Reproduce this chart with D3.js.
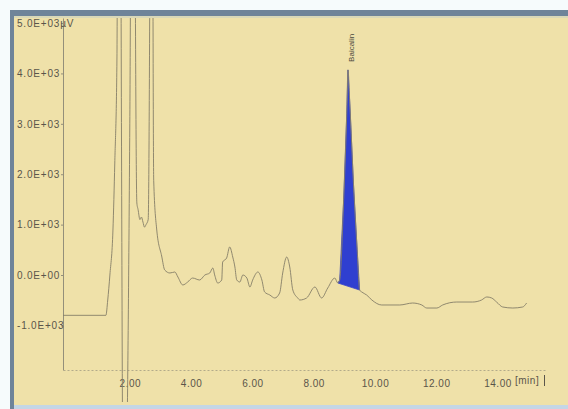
<!DOCTYPE html>
<html>
<head>
<meta charset="utf-8">
<script src="https://cdn.jsdelivr.net/npm/d3@7"></script>
<style>
    body { margin: 0; background: #f6fbfc; }
    svg { display: block; }
</style>
</head>
<body>
<svg id="chart" width="568" height="409"></svg>
<script>
// retention time (min) and signal (µV)
let times = [-0.19, 1.22, 1.28, 1.35, 1.45, 1.51, 1.58, 1.64, 1.80, 2.00, 2.10, 2.23, 2.27, 2.33, 2.38, 2.43, 2.48, 2.53, 2.60, 2.72,
    2.78, 2.88, 3.04, 3.14, 3.31, 3.47, 3.57, 3.73, 3.89, 4.05, 4.28, 4.45, 4.61, 4.71, 4.77, 4.87, 5.00, 5.03, 5.16, 5.26,
    5.36, 5.43, 5.49, 5.59, 5.69, 5.82, 5.92, 6.01, 6.18, 6.31, 6.40, 6.57, 6.73, 6.89, 6.99, 7.12, 7.22, 7.32, 7.48, 7.55,
    7.77, 8.04, 8.26, 8.46, 8.69, 8.79, 8.85, 8.98, 9.08, 9.12, 9.18, 9.30, 9.42, 9.50, 9.57, 9.73, 9.90, 10.22, 10.81, 11.23,
    11.53, 11.69, 12.02, 12.21, 12.67, 13.19, 13.48, 13.65, 13.81, 13.97, 14.17, 14.50, 14.82, 14.95];
let signal = [-800, -800, -496, 0, 893, 2222, 4266, 15000, -6000, 3000, 14000, 1430, 1300, 1100, 1150, 1050, 950, 1000, 1100, 12000,
    1880, 893, 377, 99, 40, 60, -40, -198, -139, -60, -99, 0, 40, 139, 0, -159, -99, 258, 337, 556,
    357, 159, -99, -139, 0, -60, -238, -99, 60, -99, -337, -397, -456, -357, 40, 357, 159, -298, -456, -496,
    -456, -238, -456, -258, -60, -159, -100, 1500, 3200, 4070, 3400, 1800, 500, -298, -337, -397, -496, -595, -595, -556,
    -595, -655, -655, -595, -536, -536, -496, -436, -456, -536, -635, -655, -635, -556];

let peakStart = 8.79;
let peakEnd = 9.50;
let peakName = "Baicalin";

let yTicks = [5000, 4000, 3000, 2000, 1000, 0, -1000];
let yTickLabels = ["5.0E+03µV", "4.0E+03", "3.0E+03", "2.0E+03", "1.0E+03", "0.0E+00", "-1.0E+03"];
let xTicks = [2, 4, 6, 8, 10, 12, 14];
let xTickLabels = ["2.00", "4.00", "6.00", "8.00", "10.00", "12.00", "14.00"];

let trace = times.map((t, i) => ({t: t, v: signal[i]}));

let svg = d3.select("#chart");
let labelFont = "10px 'Liberation Sans', Arial, sans-serif";

// frame
svg.append("rect").attr("x", 14).attr("y", 16).attr("width", 554).attr("height", 389).attr("fill", "#efe1a9");
svg.append("rect").attr("x", 10).attr("y", 10).attr("width", 558).attr("height", 6).attr("fill", "#6f8499");
svg.append("rect").attr("x", 14).attr("y", 16).attr("width", 554).attr("height", 2).attr("fill", "#d9d8b8");
svg.append("rect").attr("x", 10).attr("y", 10).attr("width", 4).attr("height", 399).attr("fill", "#6f8499");
svg.append("rect").attr("x", 14).attr("y", 405).attr("width", 554).attr("height", 4).attr("fill", "#c4d6e6");

let x = d3.scaleLinear([-0.18, 15.55], [63, 545]);
let y = d3.scaleLinear([-1885, 5100], [370, 18]);

svg.append("clipPath").attr("id", "clip")
    .append("rect").attr("x", 63).attr("y", 18).attr("width", 490).attr("height", 384);

// y axis
let yAxis = svg.append("g")
    .attr("transform", "translate(63,0)")
    .call(d3.axisLeft(y).tickValues(yTicks).tickFormat((d, i) => yTickLabels[i]).tickSize(2).tickSizeOuter(0));
yAxis.select(".domain").attr("stroke", "#948f7a");
yAxis.selectAll(".tick line").attr("stroke", "#948f7a");
yAxis.selectAll(".tick text")
    .attr("text-anchor", "start")
    .attr("x", -46)
    .attr("fill", "#5a554a")
    .style("font", labelFont)
    .style("letter-spacing", "0.8px");

// x axis
let xAxis = svg.append("g")
    .attr("transform", "translate(0,370)")
    .call(d3.axisBottom(x).tickValues(xTicks).tickFormat((d, i) => xTickLabels[i]).tickSize(0).tickPadding(10).tickSizeOuter(0));
xAxis.select(".domain").attr("stroke", "#b3ab8a").attr("stroke-dasharray", "2,2");
xAxis.selectAll(".tick text")
    .attr("fill", "#5a554a")
    .style("font", labelFont)
    .style("letter-spacing", "0.5px");

svg.append("text")
    .attr("x", 515).attr("y", 384)
    .attr("fill", "#5a554a")
    .style("font", labelFont)
    .style("letter-spacing", "0.5px")
    .text("[min]");
svg.append("line")
    .attr("x1", 544.5).attr("x2", 544.5).attr("y1", 375).attr("y2", 386)
    .attr("stroke", "#5a554a");

// integrated peak
let peakPts = trace.filter(d => d.t >= peakStart && d.t <= peakEnd);
svg.append("path")
    .attr("clip-path", "url(#clip)")
    .attr("d", d3.line().x(d => x(d.t)).y(d => y(d.v))(peakPts) + "Z")
    .attr("fill", "#2f3fd0")
    .attr("stroke", "#3a46c8")
    .attr("stroke-width", 0.8);

// chromatogram trace
svg.append("path")
    .attr("clip-path", "url(#clip)")
    .attr("d", d3.line().curve(d3.curveMonotoneX).x(d => x(d.t)).y(d => y(d.v))(trace))
    .attr("fill", "none")
    .attr("stroke", "#857e68")
    .attr("stroke-width", 0.9);

// peak name
let apex = d3.greatest(peakPts, d => d.v);
svg.append("text")
    .attr("transform", `translate(${x(apex.t) + 6},${y(apex.v) - 8}) rotate(-90)`)
    .attr("fill", "#4a463c")
    .style("font", "8px 'Liberation Sans', Arial, sans-serif")
    .text(peakName);
</script>
</body>
</html>
